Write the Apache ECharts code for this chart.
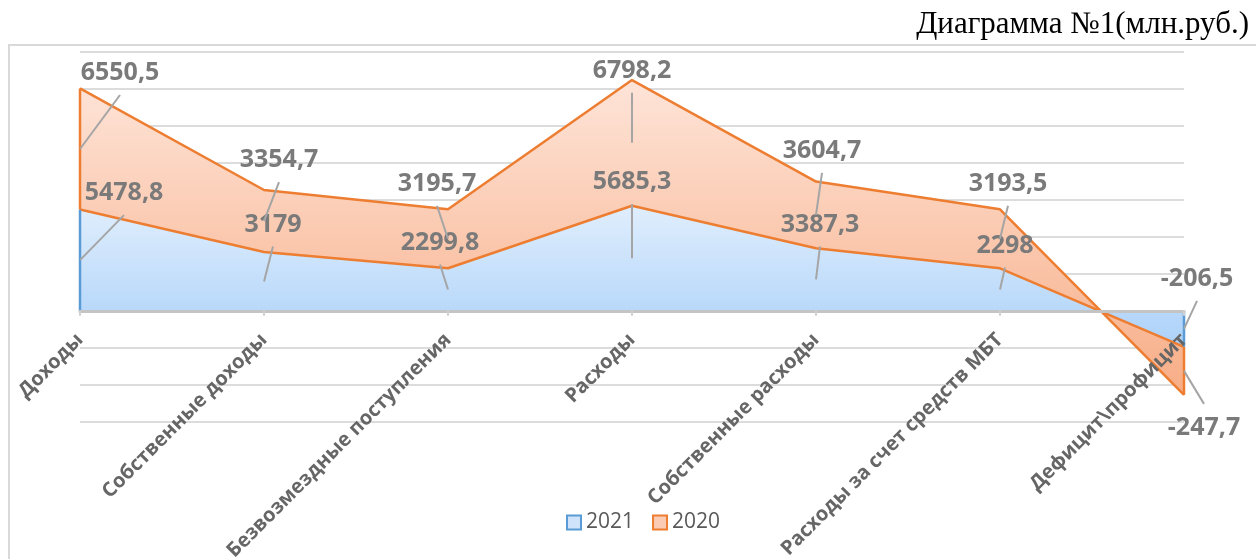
<!DOCTYPE html>
<html>
<head>
<meta charset="utf-8">
<script src="https://cdn.jsdelivr.net/npm/echarts@6/dist/echarts.min.js"></script>
<style>
html,body{margin:0;padding:0;background:#fff;}
#chart{width:1256px;height:559px;}
</style>
</head>
<body>
<div id="chart"></div>
<script>
// ---- data ----
const categories = ['Доходы', 'Собственные доходы', 'Безвозмездные поступления', 'Расходы',
  'Собственные расходы', 'Расходы за счет средств МБТ', 'Дефицит\\профицит'];
// plotted values (stacked area: 2020 stacked on 2021).
// In the original the last point is drawn much deeper than its printed label states.
const values2021 = [5478.8, 3179, 2299.8, 5685.3, 3387.3, 2298, -1950];
const values2020 = [6550.5, 3354.7, 3195.7, 6798.2, 3604.7, 3193.5, -2600];
// printed data-label texts
const labels2021 = ['5478,8', '3179', '2299,8', '5685,3', '3387,3', '2298', '-206,5'];
const labels2020 = ['6550,5', '3354,7', '3195,7', '6798,2', '3604,7', '3193,5', '-247,7'];
const seriesNames = ['2021', '2020'];
const titleText = 'Диаграмма №1(млн.руб.)';
const yMin = -6000, yMax = 14000, yStep = 2000;

// ---- label placement (pixel offsets of label centre from the band centre) ----
const off2021 = [[44, -67], [9, -57], [-8, -47], [0, -76], [4, -55], [5, -44], [13, -50]];
const off2020 = [[40, -76], [15, -61], [-11, -55], [0, -72], [6, -64], [8, -55], [20, 57]];

const centers2021 = values2021.map(v => v / 2);
const centers2020 = values2020.map((v, i) => values2021[i] + v / 2);

const LABEL_FONT = 'bold 25px "Open Sans"';
const GRID = { left: 80, right: 72, top: 52, bottom: 137.3 };
const plotH = 559 - GRID.top - GRID.bottom;
// shift the category axis up to the zero line
const zeroOffset = -plotH * (0 - yMin) / (yMax - yMin);

function labelSeries(name, centers, texts, offsets) {
  return {
    type: 'custom',
    name: name + '-labels',
    coordinateSystem: 'cartesian2d',
    clip: false,
    z: 10,
    silent: true,
    data: centers.map((c, i) => [i, c]),
    renderItem: function (params, api) {
      const i = params.dataIndex;
      const p = api.coord([api.value(0), api.value(1)]);
      const dx = offsets[i][0], dy = offsets[i][1];
      const tx = p[0] + dx, ty = p[1] + dy;
      const ey = ty + (dy < 0 ? 22 : -24);
      return {
        type: 'group',
        children: [
          { type: 'line', shape: { x1: p[0], y1: p[1], x2: tx, y2: ey },
            style: { stroke: '#a5a5a5', lineWidth: 2 } },
          { type: 'text', x: tx, y: ty,
            style: { text: texts[i], fill: '#7a7a7a', font: LABEL_FONT, align: 'center', verticalAlign: 'middle' } }
        ]
      };
    }
  };
}

const edgeIdx = [0, categories.length - 1];
const edgeSeries = {
  type: 'custom',
  name: 'edges',
  coordinateSystem: 'cartesian2d',
  clip: false,
  z: 5,
  silent: true,
  data: edgeIdx.map(i => [i, values2021[i], values2021[i] + values2020[i]]),
  renderItem: function (params, api) {
    const x = api.value(0);
    const p0 = api.coord([x, 0]);
    const p1 = api.coord([x, api.value(1)]);
    const p2 = api.coord([x, api.value(2)]);
    return {
      type: 'group',
      children: [
        { type: 'line', shape: { x1: p0[0], y1: p0[1], x2: p1[0], y2: p1[1] },
          style: { stroke: '#5b9bd5', lineWidth: 2.5 } },
        { type: 'line', shape: { x1: p1[0], y1: p1[1], x2: p2[0], y2: p2[1] },
          style: { stroke: '#ed7d31', lineWidth: 2.5 } }
      ]
    };
  }
};

const chart = echarts.init(document.getElementById('chart'), null, { renderer: 'canvas' });
chart.setOption({
  animation: false,
  backgroundColor: '#ffffff',
  title: {
    text: titleText,
    right: 2,
    top: 4,
    textStyle: { fontFamily: '"Liberation Serif", "Times New Roman", serif', fontSize: 31, fontWeight: 'normal', color: '#000' }
  },
  graphic: [{
    type: 'rect',
    shape: { x: 9, y: 45, width: 1270, height: 540 },
    style: { fill: 'none', stroke: '#d9d9d9', lineWidth: 2 },
    silent: true,
    z: -1
  }],
  legend: {
    left: 561,
    top: 507,
    itemWidth: 14,
    itemHeight: 14,
    itemGap: 18,
    textStyle: { fontFamily: '"Open Sans"', fontSize: 21, color: '#595959' },
    data: [
      { name: seriesNames[0], icon: 'rect', itemStyle: { color: '#cfe4fb', borderColor: '#5b9bd5', borderWidth: 2 } },
      { name: seriesNames[1], icon: 'rect', itemStyle: { color: '#fbccb3', borderColor: '#ed7d31', borderWidth: 2 } }
    ]
  },
  grid: { left: GRID.left, right: GRID.right, top: GRID.top, bottom: GRID.bottom, containLabel: false, outerBoundsMode: 'none' },
  xAxis: {
    type: 'category',
    data: categories,
    boundaryGap: false,
    offset: zeroOffset,
    z: 8,
    axisLine: { onZero: false, lineStyle: { color: '#c4c4c4', width: 3 } },
    axisTick: { show: true, length: 5, lineStyle: { color: '#d0d0d0', width: 2 } },
    axisLabel: {
      rotate: 45,
      margin: 26,
      fontFamily: '"Open Sans"',
      fontSize: 20,
      fontWeight: 'bold',
      color: '#666666',
      interval: 0
    },
    splitLine: { show: false }
  },
  yAxis: {
    type: 'value',
    min: yMin,
    max: yMax,
    interval: yStep,
    axisLine: { show: false },
    axisTick: { show: false },
    axisLabel: { show: false },
    splitLine: { lineStyle: { color: '#dcdcdc', width: 2 } }
  },
  series: [
    {
      name: seriesNames[0],
      type: 'line',
      stack: 'total',
      data: values2021,
      symbol: 'none',
      z: 3,
      lineStyle: { color: '#ed7d31', width: 2.5 },
      itemStyle: { color: '#5b9bd5' },
      areaStyle: {
        opacity: 1,
        color: new echarts.graphic.LinearGradient(0, 0, 0, 1, [
          { offset: 0, color: '#e0eefd' },
          { offset: 1, color: '#abd1f9' }
        ])
      }
    },
    {
      name: seriesNames[1],
      type: 'line',
      stack: 'total',
      data: values2020,
      symbol: 'none',
      z: 2,
      lineStyle: { color: '#ed7d31', width: 2.5 },
      itemStyle: { color: '#ed7d31' },
      areaStyle: {
        opacity: 1,
        color: new echarts.graphic.LinearGradient(0, 0, 0, 1, [
          { offset: 0, color: '#fee4d8' },
          { offset: 1, color: '#f7ad86' }
        ])
      }
    },
    edgeSeries,
    labelSeries(seriesNames[0], centers2021, labels2021, off2021),
    labelSeries(seriesNames[1], centers2020, labels2020, off2020)
  ]
});
</script>
</body>
</html>
